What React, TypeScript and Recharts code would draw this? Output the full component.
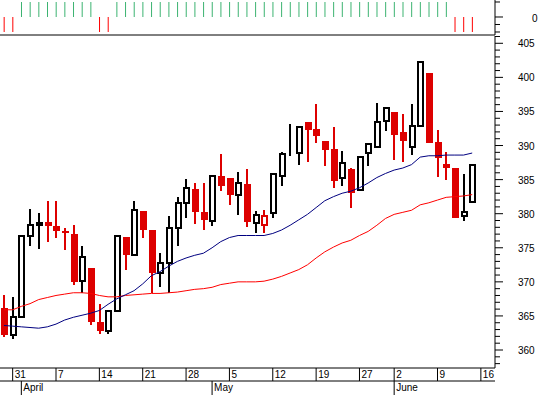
import React from 'react';
import { ComposedChart, Bar, Line, XAxis, YAxis, Cell } from 'recharts';

const dates = [
  'Mar 28', 'Mar 31', 'Apr 1', 'Apr 2', 'Apr 3', 'Apr 4', 'Apr 7', 'Apr 8', 'Apr 9', 'Apr 10', 'Apr 11',
  'Apr 14', 'Apr 15', 'Apr 16', 'Apr 17', 'Apr 18', 'Apr 21', 'Apr 22', 'Apr 23', 'Apr 24', 'Apr 25',
  'Apr 28', 'Apr 29', 'Apr 30', 'May 1', 'May 2', 'May 5', 'May 6', 'May 7', 'May 8', 'May 9',
  'May 12', 'May 13', 'May 14', 'May 15', 'May 16', 'May 19', 'May 20', 'May 21', 'May 22', 'May 23',
  'May 27', 'May 28', 'May 29', 'May 30', 'Jun 2', 'Jun 3', 'Jun 4', 'Jun 5', 'Jun 6',
  'Jun 9', 'Jun 10', 'Jun 11', 'Jun 12', 'Jun 13',
];

const opens = [
  366.2, 362.2, 364.8, 376.7, 378.3, 378.8, 378.2, 377.5, 377.0, 370.1, 372.1,
  364.1, 362.8, 365.7, 376.6, 373.9, 380.4, 377.6, 371.3, 372.7, 377.9,
  381.5, 383.6, 380.3, 379.0, 385.5, 385.2, 382.7, 384.4, 378.7, 378.3,
  380.1, 385.6, 388.9, 388.9, 393.5, 392.4, 390.7, 389.5, 385.2, 386.6,
  383.5, 388.9, 389.8, 393.6, 394.9, 392.0, 389.8, 392.8, 400.6,
  390.5, 386.8, 386.7, 379.6, 381.7,
];
const highs = [
  368.1, 367.8, 376.9, 380.7, 380.1, 381.9, 381.9, 377.9, 378.3, 375.3, 372.1,
  366.8, 365.9, 376.8, 376.6, 381.9, 380.4, 377.6, 374.2, 379.6, 382.5,
  385.1, 384.5, 384.5, 385.6, 388.8, 385.2, 386.1, 386.6, 380.4, 380.5,
  386.0, 389.1, 393.1, 392.9, 393.5, 396.1, 390.7, 392.7, 389.2, 386.7,
  388.4, 390.2, 396.3, 395.6, 394.9, 394.6, 396.1, 402.3, 400.6,
  392.3, 389.0, 386.7, 385.8, 387.2,
];
const lows = [
  361.9, 361.6, 364.7, 375.3, 374.8, 375.9, 376.5, 374.6, 369.5, 368.3, 363.6,
  362.4, 362.3, 365.6, 371.7, 373.8, 376.5, 368.3, 369.3, 368.3, 375.2,
  379.3, 378.5, 377.6, 378.2, 383.4, 381.3, 379.8, 378.1, 377.1, 377.1,
  379.4, 384.1, 388.4, 387.2, 387.6, 390.4, 387.0, 383.7, 384.0, 380.9,
  383.3, 387.0, 389.6, 392.1, 387.9, 387.6, 388.6, 392.7, 390.3,
  385.4, 385.0, 379.3, 379.0, 381.6,
];
const closes = [
  362.2, 364.9, 376.7, 378.3, 378.7, 378.2, 377.5, 377.1, 370.0, 373.6, 364.1,
  362.8, 365.7, 376.7, 374.0, 380.5, 377.6, 371.3, 372.7, 377.9, 381.5,
  383.7, 380.3, 379.1, 385.5, 384.1, 382.8, 384.5, 378.8, 379.8, 379.6,
  385.8, 388.7, 388.9, 392.7, 392.3, 391.4, 389.4, 384.8, 387.4, 383.1,
  388.3, 390.2, 393.5, 395.5, 391.5, 390.7, 392.8, 402.2, 390.4,
  388.2, 387.2, 379.4, 380.2, 387.2,
];
const fastAvg = [
  363.6, 363.5, 363.4, 363.3, 363.2, 363.4, 363.8, 364.4, 364.8, 365.1, 365.4,
  365.8, 366.7, 367.5, 368.1, 368.7, 369.7, 370.9, 371.5, 372.3, 373.0,
  373.5, 373.9, 374.2, 375.0, 375.9, 376.5, 376.8, 376.8, 376.8, 376.8,
  377.1, 377.6, 378.3, 379.1, 379.9, 380.9, 381.9, 382.5, 383.0, 383.3,
  383.8, 384.5, 385.3, 385.9, 386.4, 386.7, 387.2, 388.3, 388.5,
  388.5, 388.6, 388.6, 388.6, 388.9,
];
const slowAvg = [
  365.9, 365.9, 366.4, 366.8, 367.4, 367.7, 368.0, 368.2, 368.4, 368.4, 368.3,
  368.0, 367.8, 367.8, 368.0, 368.1, 368.2, 368.3, 368.3, 368.4, 368.5,
  368.7, 368.9, 369.0, 369.2, 369.6, 369.8, 370.0, 370.0, 370.0, 370.1,
  370.4, 370.8, 371.3, 371.8, 372.5, 373.5, 374.4, 375.1, 375.7, 376.1,
  376.8, 377.4, 378.3, 379.3, 379.9, 380.2, 380.5, 381.3, 381.6,
  382.0, 382.4, 382.5, 382.6, 382.8,
];
// 1 = buy (green, up), -1 = sell (red, down)
const signals = [
  -1, -1, 1, 1, 1, 1, 1, 1, 1, 1, 1,
  -1, -1, 1, 1, 1, 1, 1, 1, 1, 1,
  1, 1, 1, 1, 1, 1, 1, 1, 1, 1,
  1, 1, 1, 1, 1, 1, 1, 1, 1, 1,
  1, 1, 1, 1, 1, 1, 1, 1, 1,
  1, 1, -1, -1, -1,
];

const weekTicks = [1, 6, 11, 16, 21, 26, 31, 36, 41, 45, 50, 55];
const weekLabels = ['31', '7', '14', '21', '28', '5', '12', '19', '27', '2', '9', '16'];
const monthTicks = [2, 24, 45];
const monthLabels = ['April', 'May', 'June'];
const priceTicks = Array.from({ length: 49 }, (_, k) => 358 + k);

const RED = '#dd0000';
const GREEN = '#3cb371';
const FONT = '"Liberation Sans", Arial, sans-serif';
const X_DOMAIN: [number, number] = [-0.46, 56.63];

const data = dates.map((d, i) => ({
  i,
  date: d,
  open: opens[i],
  high: highs[i],
  low: lows[i],
  close: closes[i],
  prevClose: i > 0 ? closes[i - 1] : opens[i],
  range: [lows[i], highs[i]],
  fast: fastAvg[i],
  slow: slowAvg[i],
  sig: signals[i],
}));

// colour: close vs previous close, fill: close vs open
const Candle = (props: any) => {
  const { x, y, width, height, payload } = props;
  const { open, close, high, low, prevClose } = payload;
  const k = high === low ? 0 : height / (high - low);
  const cx = Math.round(x + width / 2);
  const yOf = (v: number) => y + (high - v) * k;
  const top = yOf(Math.max(open, close));
  const bot = yOf(Math.min(open, close));
  const color = close < prevClose ? RED : '#000';
  const filled = close < open;
  return (
    <g shapeRendering="crispEdges">
      <line x1={cx} x2={cx} y1={y} y2={top} stroke={color} strokeWidth={1.5} />
      <line x1={cx} x2={cx} y1={bot} y2={y + height} stroke={color} strokeWidth={1.5} />
      {filled ? (
        <rect x={cx - 3.5} y={top} width={7} height={Math.max(bot - top, 1)} fill={color} />
      ) : (
        <rect x={cx - 2.5} y={top} width={5} height={Math.max(bot - top, 0)} fill="#fff" stroke={color} strokeWidth={2} />
      )}
    </g>
  );
};

const PriceTick = (props: any) => {
  const { x, y, payload } = props;
  const major = payload.value % 5 === 0;
  return (
    <g>
      <line x1={x} x2={x + (major ? 8 : 5)} y1={y} y2={y} stroke="#000" />
      {major && (
        <text x={x + 23} y={y + 4} fontSize={10} fontFamily={FONT} fill="#000">{payload.value}</text>
      )}
    </g>
  );
};

const SignalTick = (props: any) => {
  const { x, y, payload } = props;
  return (
    <g>
      <line x1={x} x2={x + (payload.value === 0 ? 8 : 5)} y1={y} y2={y} stroke="#000" />
      {payload.value === 0 && (
        <text x={x + 37} y={y + 5} fontSize={10} fontFamily={FONT} fill="#000">0</text>
      )}
    </g>
  );
};

const WeekTick = (props: any) => {
  const { x, y, payload } = props;
  const idx = weekTicks.indexOf(payload.value);
  return (
    <g>
      <line x1={x} x2={x} y1={y} y2={y + 13} stroke="#000" />
      <text x={x + 2} y={y + 10} fontSize={10} fontFamily={FONT} fill="#000">{weekLabels[idx]}</text>
    </g>
  );
};

const MonthTick = (props: any) => {
  const { x, y, payload } = props;
  const idx = monthTicks.indexOf(payload.value);
  return (
    <g>
      <line x1={x} x2={x} y1={y} y2={y + 14} stroke="#000" />
      <text x={x + 2} y={y + 10} fontSize={10} fontFamily={FONT} fill="#000">{monthLabels[idx]}</text>
    </g>
  );
};

export default function App() {
  return (
    <div style={{ width: 541, height: 395, background: '#fff', fontFamily: FONT }}>
      <style>{'body{margin:0;background:#fff}'}</style>
      <ComposedChart width={541} height={36} data={data} margin={{ top: 0, right: 0, bottom: 0, left: 0 }}>
        <XAxis
          type="number"
          dataKey="i"
          domain={X_DOMAIN}
          allowDataOverflow
          height={1}
          tick={false}
          tickLine={false}
          axisLine={{ stroke: '#000' }}
        />
        <YAxis
          orientation="right"
          width={46}
          type="number"
          domain={[-1.2, 1.133]}
          allowDataOverflow
          ticks={[1, 0, -0.5, -1]}
          interval={0}
          tickSize={0}
          tickMargin={0}
          tickLine={false}
          axisLine={{ stroke: '#000' }}
          tick={<SignalTick />}
        />
        <Bar dataKey="sig" barSize={1} isAnimationActive={false}>
          {data.map((d) => (
            <Cell key={d.i} fill={d.sig > 0 ? GREEN : 'red'} />
          ))}
        </Bar>
      </ComposedChart>
      <ComposedChart width={541} height={359} data={data} margin={{ top: 0, right: 0, bottom: 0, left: 0 }}>
        <XAxis
          type="number"
          dataKey="i"
          domain={X_DOMAIN}
          allowDataOverflow
          ticks={weekTicks}
          interval={0}
          height={13}
          tickSize={0}
          tickMargin={0}
          tickLine={false}
          axisLine={{ stroke: '#000' }}
          tick={<WeekTick />}
        />
        <XAxis
          xAxisId="month"
          type="number"
          dataKey="i"
          domain={X_DOMAIN}
          allowDataOverflow
          ticks={monthTicks}
          interval={0}
          height={14}
          tickSize={0}
          tickMargin={0}
          tickLine={false}
          axisLine={{ stroke: '#000' }}
          tick={<MonthTick />}
        />
        <YAxis
          orientation="right"
          width={46}
          type="number"
          domain={[357.36, 406.07]}
          allowDataOverflow
          ticks={priceTicks}
          interval={0}
          tickSize={0}
          tickMargin={0}
          tickLine={false}
          axisLine={{ stroke: '#000' }}
          tick={<PriceTick />}
        />
        <Bar dataKey="range" barSize={7} shape={<Candle />} isAnimationActive={false} />
        <Line type="linear" dataKey="slow" stroke="#ff0000" strokeWidth={1} dot={false} isAnimationActive={false} />
        <Line type="linear" dataKey="fast" stroke="#000080" strokeWidth={1} dot={false} isAnimationActive={false} />
      </ComposedChart>
    </div>
  );
}
